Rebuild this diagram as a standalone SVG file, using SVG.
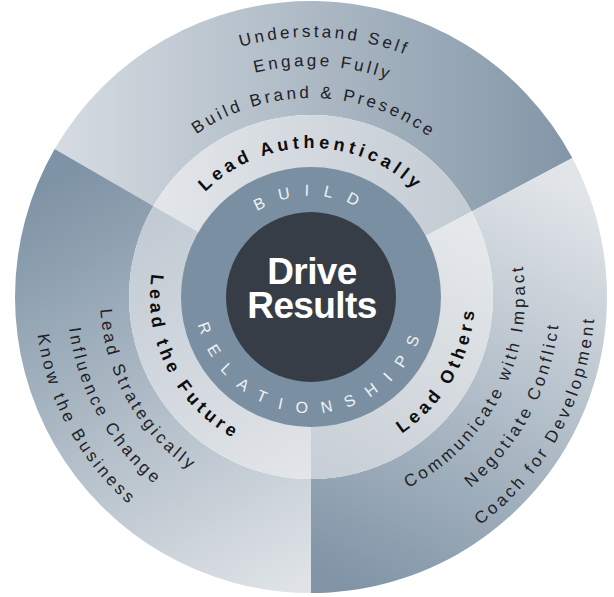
<svg xmlns="http://www.w3.org/2000/svg" width="614" height="597" viewBox="0 0 614 597">
<defs>
  <linearGradient id="gTopOuter" gradientUnits="userSpaceOnUse" x1="60" y1="150" x2="565" y2="150">
    <stop offset="0" stop-color="#d5dbe1"/><stop offset="1" stop-color="#8497a8"/>
  </linearGradient>
  <linearGradient id="gRightOuter" gradientUnits="userSpaceOnUse" x1="540" y1="170" x2="330" y2="580">
    <stop offset="0" stop-color="#e1e5e9"/><stop offset="1" stop-color="#8094a6"/>
  </linearGradient>
  <linearGradient id="gLeftOuter" gradientUnits="userSpaceOnUse" x1="70" y1="170" x2="300" y2="585">
    <stop offset="0" stop-color="#7e93a5"/><stop offset="1" stop-color="#dfe3e7"/>
  </linearGradient>
  <linearGradient id="gTopMid" gradientUnits="userSpaceOnUse" x1="155" y1="200" x2="470" y2="200">
    <stop offset="0" stop-color="#e3e6ea"/><stop offset="1" stop-color="#c3cbd3"/>
  </linearGradient>
  <linearGradient id="gRightMid" gradientUnits="userSpaceOnUse" x1="470" y1="215" x2="315" y2="478">
    <stop offset="0" stop-color="#e6e9ec"/><stop offset="1" stop-color="#c7ced5"/>
  </linearGradient>
  <linearGradient id="gLeftMid" gradientUnits="userSpaceOnUse" x1="155" y1="210" x2="305" y2="478">
    <stop offset="0" stop-color="#c1cad3"/><stop offset="1" stop-color="#e2e5e9"/>
  </linearGradient>
  <!-- text arcs -->
  <path id="pUnd" d="M 53.53,260.82 A 260 260 0 0 1 570.84,287.93"/>
  <path id="pEng" d="M 82.25,264.85 A 231 231 0 0 1 541.86,288.94"/>
  <path id="pBrand" d="M 113.09,276.20 A 199 199 0 0 1 509.51,283.12"/>
  <path id="pAuth" d="M 162.57,284.01 A 149 149 0 0 1 459.43,284.01"/>
  <path id="pBuild" d="M 210.55,286.44 A 101 101 0 0 1 411.75,289.95"/>
  <path id="pRel" d="M 195.44,307.11 A 116 116 0 0 0 426.56,307.11"/>
  <path id="pFut" d="M 225.68,160.46 A 161 161 0 0 0 371.31,446.28"/>
  <path id="pStrat" d="M 191.49,123.11 A 211 211 0 0 0 398.50,489.00"/>
  <path id="pInfl" d="M 174.56,94.71 A 244 244 0 0 0 410.24,519.91"/>
  <path id="pKnow" d="M 158.66,66.85 A 276 276 0 0 0 421.06,550.11"/>
  <path id="pOth" d="M 241.69,445.63 A 164 164 0 0 0 405.07,162.66"/>
  <path id="pComm" d="M 230.83,495.42 A 214 214 0 0 0 424.40,115.52"/>
  <path id="pNeg" d="M 213.71,526.20 A 249 249 0 0 0 446.62,88.17"/>
  <path id="pCoach" d="M 196.85,557.05 A 284 284 0 0 0 468.57,60.73"/>
</defs>
<style>
  text { font-family: "Liberation Sans", Arial, Helvetica, sans-serif; }
  .o { font-size: 17px; letter-spacing: 3.2px; fill: #1e2226; }
  .b { font-size: 18px; font-weight: bold; letter-spacing: 4.2px; fill: #0d0d0d; }
  .w { font-size: 16px; letter-spacing: 14px; fill: #eef2f5; }
  .c { font-size: 37px; font-weight: bold; letter-spacing: -0.6px; fill: #ffffff; }
</style>
<rect width="614" height="597" fill="#ffffff"/>

<g id="lead-authentically">
  <path d="M 54.65,149 A 296 296 0 0 1 572.35,158.04 L 471.7,211.56 A 182 182 0 0 0 153.4,206 Z" fill="url(#gTopOuter)"/>
  <path d="M 311,297 L 153.4,206 A 182 182 0 0 1 471.7,211.56 Z" fill="url(#gTopMid)"/>
  <text class="o"><textPath href="#pUnd" startOffset="50%" text-anchor="middle">Understand Self</textPath></text>
  <text class="o"><textPath href="#pEng" startOffset="50%" text-anchor="middle">Engage Fully</textPath></text>
  <text class="o"><textPath href="#pBrand" startOffset="50%" text-anchor="middle">Build Brand &amp; Presence</textPath></text>
  <text class="b"><textPath href="#pAuth" startOffset="50%" text-anchor="middle">Lead Authentically</textPath></text>
</g>

<g id="lead-others">
  <path d="M 572.35,158.04 A 296 296 0 0 1 311,593 L 311,479 A 182 182 0 0 0 471.7,211.56 Z" fill="url(#gRightOuter)"/>
  <path d="M 311,297 L 471.7,211.56 A 182 182 0 0 1 311,479 Z" fill="url(#gRightMid)"/>
  <text class="o"><textPath href="#pComm" startOffset="50%" text-anchor="middle">Communicate with Impact</textPath></text>
  <text class="o"><textPath href="#pNeg" startOffset="50%" text-anchor="middle">Negotiate Conflict</textPath></text>
  <text class="o"><textPath href="#pCoach" startOffset="50%" text-anchor="middle">Coach for Development</textPath></text>
  <text class="b"><textPath href="#pOth" startOffset="50%" text-anchor="middle">Lead Others</textPath></text>
</g>

<g id="lead-the-future">
  <path d="M 311,593 A 296 296 0 0 1 54.65,149 L 153.4,206 A 182 182 0 0 0 311,479 Z" fill="url(#gLeftOuter)"/>
  <path d="M 311,297 L 311,479 A 182 182 0 0 1 153.4,206 Z" fill="url(#gLeftMid)"/>
  <text class="o"><textPath href="#pStrat" startOffset="50%" text-anchor="middle">Lead Strategically</textPath></text>
  <text class="o"><textPath href="#pInfl" startOffset="50%" text-anchor="middle">Influence Change</textPath></text>
  <text class="o"><textPath href="#pKnow" startOffset="50%" text-anchor="middle">Know the Business</textPath></text>
  <text class="b"><textPath href="#pFut" startOffset="50%" text-anchor="middle">Lead the Future</textPath></text>
</g>

<g id="build-relationships">
  <circle cx="311" cy="297" r="130" fill="#7b8fa2"/>
  <text class="w"><textPath href="#pBuild" startOffset="50%" text-anchor="middle">BUILD</textPath></text>
  <text class="w"><textPath href="#pRel" startOffset="50%" text-anchor="middle">RELATIONSHIPS</textPath></text>
</g>

<g id="drive-results">
  <circle cx="311" cy="297" r="85" fill="#363d47"/>
  <text class="c" x="312" y="284" text-anchor="middle">Drive</text>
  <text class="c" x="312" y="318" text-anchor="middle">Results</text>
</g>

<g id="connectors"></g>
</svg>
